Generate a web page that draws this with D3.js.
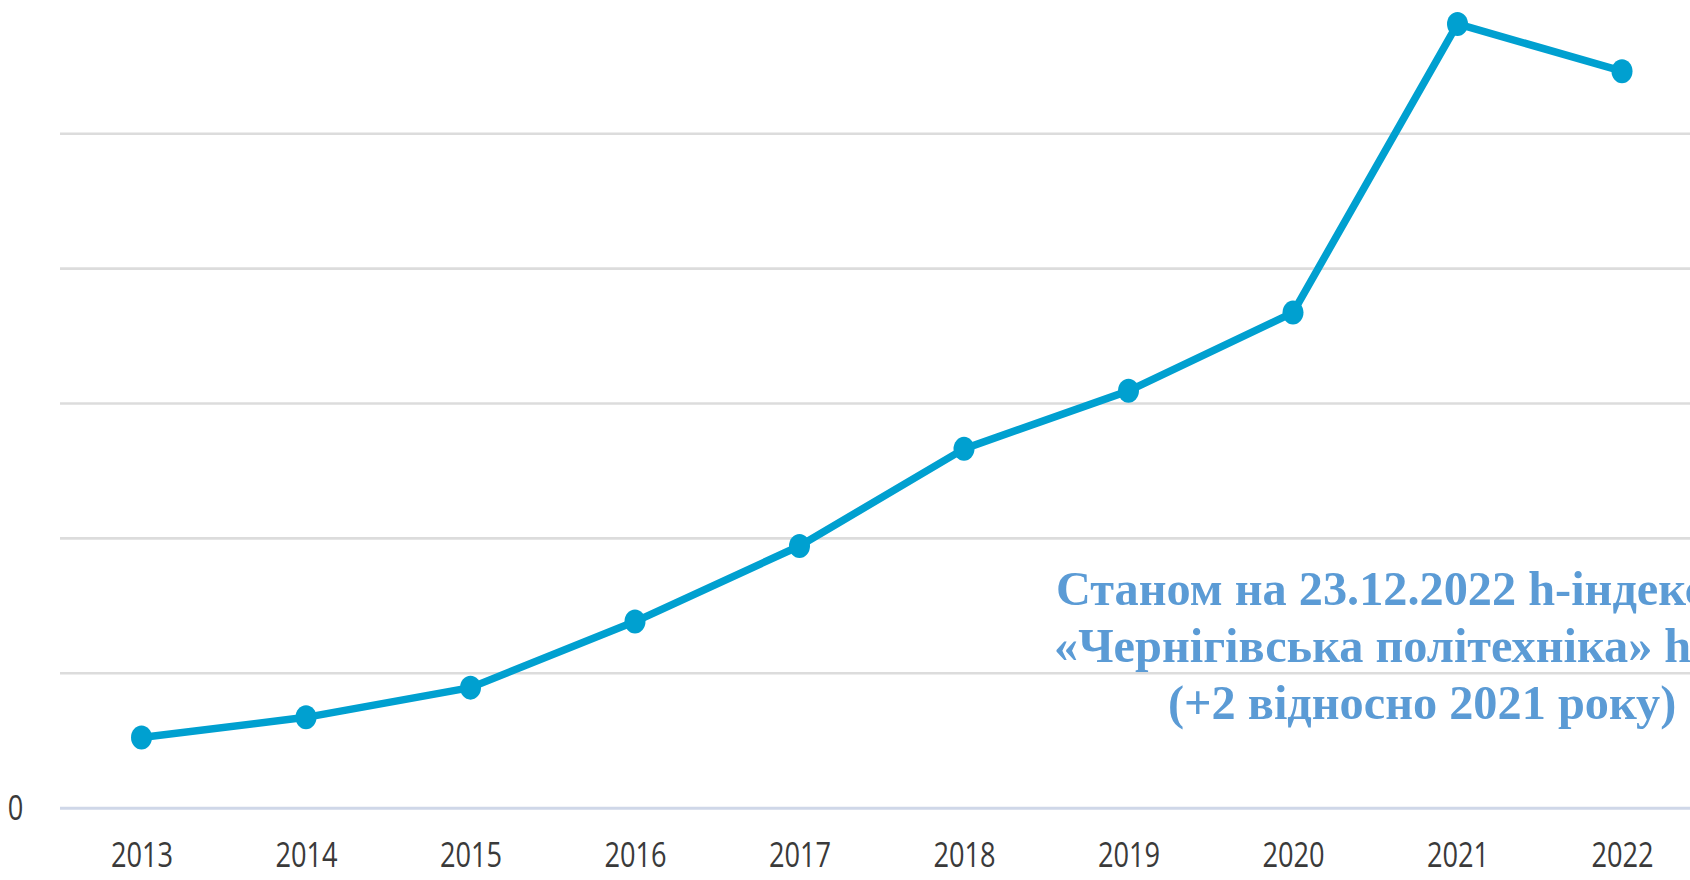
<!DOCTYPE html>
<html>
<head>
<meta charset="utf-8">
<script src="https://cdn.jsdelivr.net/npm/d3@7"></script>
<style>
  html, body { margin: 0; padding: 0; background: #ffffff; }
  svg { display: block; }
</style>
</head>
<body>
<svg id="chart" width="1690" height="880"></svg>
<script>
// ---- data ----
const years = ["2013","2014","2015","2016","2017","2018","2019","2020","2021","2022"];
const values = [52, 67, 89, 138, 194, 266, 309, 367, 581, 546];
const gridTicks = [0, 100, 200, 300, 400, 500];
const yTickLabels = ["0"];
const noteLines = [
  "Станом на 23.12.2022 h-індекс",
  "«Чернігівська політехніка» h",
  "(+2 відносно 2021 року)"
];

// ---- layout ----
const W = 1690, H = 880;
const svg = d3.select("#chart");
svg.append("rect").attr("width", W).attr("height", H).attr("fill", "#ffffff");

const x = d3.scalePoint().domain(years).range([141.5, 1622]).padding(0);
const y = d3.scaleLinear().domain([0, 500]).range([807.7, 133.2]);

// gridlines
const gridG = svg.append("g")
  .attr("transform", "translate(60,0)")
  .call(d3.axisLeft(y).tickValues(gridTicks.filter(d => d > 0)).tickSize(-(W - 60)).tickFormat(""));
gridG.select(".domain").remove();
gridG.selectAll(".tick line").attr("stroke", "#dcdcdc").attr("stroke-width", 2.6);

// zero baseline
const zeroG = svg.append("g")
  .attr("transform", "translate(60,0)")
  .call(d3.axisLeft(y).tickValues([0]).tickSize(-(W - 60)).tickFormat(""));
zeroG.select(".domain").remove();
zeroG.selectAll(".tick line").attr("stroke", "#cfd7e8").attr("stroke-width", 3);

// y tick label "0"
svg.selectAll("text.ylab").data(yTickLabels).enter().append("text")
  .attr("class", "ylab")
  .attr("transform", d => `translate(15.5,${y(+d) + 12}) scale(0.8,1)`)
  .attr("text-anchor", "middle")
  .attr("font-family", "'Open Sans', 'Noto Sans', sans-serif")
  .attr("font-size", 34)
  .attr("fill", "#3a3a3a")
  .text(d => d);

// x labels
const xAxis = svg.append("g")
  .attr("transform", `translate(0,${y(0)})`)
  .call(d3.axisBottom(x).tickSize(0).tickPadding(0));
xAxis.select(".domain").remove();
xAxis.selectAll(".tick text")
  .attr("y", 0).attr("dy", 0)
  .attr("transform", "translate(0,59) scale(0.8,1)")
  .attr("font-family", "'Open Sans', 'Noto Sans', sans-serif")
  .attr("font-size", 34)
  .attr("fill", "#3a3a3a");

// line
const data = years.map((yr, i) => ({ yr, v: values[i] }));
svg.append("path")
  .datum(data)
  .attr("fill", "none")
  .attr("stroke", "#00a0d0")
  .attr("stroke-width", 7.5)
  .attr("stroke-linejoin", "round")
  .attr("d", d3.line().x(d => x(d.yr)).y(d => y(d.v)));

// markers
svg.selectAll("ellipse.pt").data(data).enter().append("ellipse")
  .attr("class", "pt")
  .attr("cx", d => x(d.yr))
  .attr("cy", d => y(d.v))
  .attr("rx", 10.5)
  .attr("ry", 12)
  .attr("fill", "#00a0d0");

// annotation
const noteX = [1056, 1054, 1168];
const noteY = [605, 662, 719];
svg.selectAll("text.note").data(noteLines).enter().append("text")
  .attr("class", "note")
  .attr("x", (d, i) => noteX[i])
  .attr("y", (d, i) => noteY[i])
  .attr("font-family", "'Liberation Serif', 'Times New Roman', serif")
  .attr("font-weight", "bold")
  .attr("font-size", 48.3)
  .attr("fill", "#5b9bd5")
  .text(d => d);
</script>
</body>
</html>
